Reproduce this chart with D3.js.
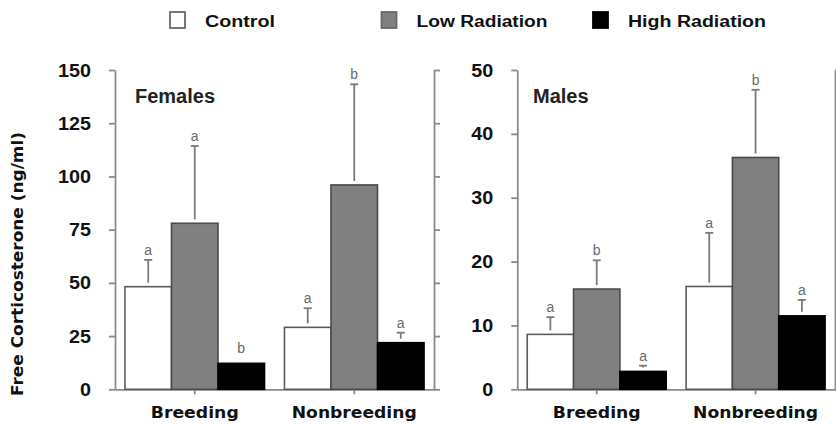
<!DOCTYPE html>
<meta charset="utf-8">
<html>
<head>
	<script src="https://d3js.org/d3.v7.min.js"></script>
	<style>
		body { margin: 0; background: #fff; }
	</style>
</head>
<body>
<div id="chart"></div>
<script>

// data
var categories = ["Breeding", "Nonbreeding"];
var groups = ["Control", "Low Radiation", "High Radiation"];

var femalesMean = [[48.2, 78.0, 12.2], [29.1, 96.0, 21.9]];
var femalesSe = [[12.6, 36.3, 0], [9.0, 47.3, 4.7]];
var femalesLetters = [["a", "a", "b"], ["a", "b", "a"]];
var femalesTicks = [0, 25, 50, 75, 100, 125, 150];

var malesMean = [[8.6, 15.7, 2.8], [16.1, 36.3, 11.5]];
var malesSe = [[2.7, 4.5, 0.9], [8.4, 10.6, 2.5]];
var malesLetters = [["a", "b", "a"], ["a", "b", "a"]];
var malesTicks = [0, 10, 20, 30, 40, 50];

var width = 836, height = 425;
var plotTop = 70, plotBottom = 389.3;
var fills = ["#ffffff", "#808080", "#000000"];
var strokes = ["#5a5a5a", "#4a4a4a", "#000000"];
var axisColor = "#8a8a8a";

var svg = d3.select("#chart")
  .append("svg")
    .attr("width", width)
    .attr("height", height);

var panels = [
  {name: "Females", mean: femalesMean, se: femalesSe, letters: femalesLetters, ticks: femalesTicks, x0: 115, x1: 434, labelX: 135},
  {name: "Males", mean: malesMean, se: malesSe, letters: malesLetters, ticks: malesTicks, x0: 517.3, x1: 835, labelX: 533}
];

panels.forEach(function(p) {
  var y = d3.scaleLinear()
    .domain([0, d3.max(p.ticks)])
    .range([plotBottom, plotTop]);

  var x = d3.scaleBand()
    .domain(categories)
    .range([p.x0, p.x1])
    .paddingInner(0.125)
    .paddingOuter(0.0625);

  var xs = d3.scaleBand()
    .domain(groups)
    .range([0, x.bandwidth()]);

  // left axis with labels
  var ya = svg.append("g")
    .attr("transform", "translate(" + p.x0 + ",0)")
    .call(d3.axisLeft(y).tickValues(p.ticks).tickSize(6).tickSizeOuter(0).tickPadding(18));
  ya.selectAll("text")
    .style("font-family", "'Liberation Sans', Arial, sans-serif")
    .style("font-weight", "bold")
    .style("font-size", "19px")
    .attr("fill", "#111")
    .attr("textLength", function(d) { return String(d).length * 11; })
    .attr("lengthAdjust", "spacingAndGlyphs");

  // right axis, ticks only
  var yr = svg.append("g")
    .attr("transform", "translate(" + p.x1 + ",0)")
    .call(d3.axisRight(y).tickValues(p.ticks).tickSize(6).tickSizeOuter(0).tickFormat(""));

  // bottom axis
  var xa = svg.append("g")
    .attr("transform", "translate(0," + plotBottom + ")")
    .call(d3.axisBottom(x).tickSize(5).tickSizeOuter(0));
  xa.selectAll("text")
    .attr("y", 29)
    .attr("dy", 0)
    .style("font-family", "'DejaVu Sans', Verdana, sans-serif")
    .style("font-weight", "bold")
    .style("font-size", "15px")
    .attr("fill", "#111")
    .attr("textLength", function(d) { return d == "Breeding" ? 88 : 125; })
    .attr("lengthAdjust", "spacingAndGlyphs");

  [ya, yr, xa].forEach(function(a) {
    a.selectAll("path, line").attr("stroke", axisColor).attr("stroke-width", 1.8);
  });

  // bars
  var rows = [];
  categories.forEach(function(c, i) {
    groups.forEach(function(g, j) {
      rows.push({cat: c, grp: g, j: j, mean: p.mean[i][j], se: p.se[i][j], letter: p.letters[i][j]});
    });
  });

  svg.selectAll(null)
    .data(rows)
    .enter()
    .append("rect")
      .attr("x", function(d) { return x(d.cat) + xs(d.grp); })
      .attr("y", function(d) { return y(d.mean); })
      .attr("width", xs.bandwidth())
      .attr("height", function(d) { return plotBottom - y(d.mean); })
      .attr("fill", function(d) { return fills[d.j]; })
      .attr("stroke", function(d) { return strokes[d.j]; })
      .attr("stroke-width", 1.6);

  // error bars (upper only) with cap
  var eb = svg.selectAll(null)
    .data(rows.filter(function(d) { return d.se > 0; }))
    .enter()
    .append("g")
      .attr("stroke", "#7a7a7a")
      .attr("stroke-width", 1.8);
  eb.append("line")
    .attr("x1", function(d) { return x(d.cat) + xs(d.grp) + xs.bandwidth() / 2; })
    .attr("x2", function(d) { return x(d.cat) + xs(d.grp) + xs.bandwidth() / 2; })
    .attr("y1", function(d) { return Math.max(y(d.mean) - 4, y(d.mean + d.se)); })
    .attr("y2", function(d) { return y(d.mean + d.se); });
  eb.append("line")
    .attr("x1", function(d) { return x(d.cat) + xs(d.grp) + xs.bandwidth() / 2 - 4; })
    .attr("x2", function(d) { return x(d.cat) + xs(d.grp) + xs.bandwidth() / 2 + 4; })
    .attr("y1", function(d) { return y(d.mean + d.se); })
    .attr("y2", function(d) { return y(d.mean + d.se); });

  // significance letters
  svg.selectAll(null)
    .data(rows)
    .enter()
    .append("text")
      .attr("x", function(d) { return x(d.cat) + xs(d.grp) + xs.bandwidth() / 2; })
      .attr("y", function(d) { return d.se > 0 ? y(d.mean + d.se) - 5 : y(d.mean) - 10; })
      .attr("text-anchor", "middle")
      .style("font-family", "'Liberation Sans', Arial, sans-serif")
      .style("font-size", "14px")
      .attr("fill", "#6a6a6a")
      .text(function(d) { return d.letter; });

  // panel label
  svg.append("text")
    .attr("x", p.labelX)
    .attr("y", 103)
    .style("font-family", "'Liberation Sans', Arial, sans-serif")
    .style("font-weight", "bold")
    .style("font-size", "20px")
    .attr("fill", "#222")
    .text(p.name);
});

// y axis title
svg.append("text")
  .attr("transform", "translate(23,264) rotate(-90)")
  .attr("text-anchor", "middle")
  .style("font-family", "'DejaVu Sans', Verdana, sans-serif")
  .style("font-weight", "bold")
  .style("font-size", "15px")
  .attr("fill", "#111")
  .attr("textLength", 264)
  .attr("lengthAdjust", "spacingAndGlyphs")
  .text("Free Corticosterone (ng/ml)");

// legend
var legendW = [70, 131, 138];
var leg = svg.selectAll("g.legend")
  .data(groups)
  .enter()
  .append("g")
    .attr("class", "legend")
    .attr("transform", function(d, i) { return "translate(" + (170 + i * 211.5) + ",12)"; });
leg.append("rect")
  .attr("width", 15)
  .attr("height", 16)
  .attr("fill", function(d, i) { return fills[i]; })
  .attr("stroke", function(d, i) { return i == 2 ? "#000" : "#6a6a6a"; })
  .attr("stroke-width", 1.8);
leg.append("text")
  .attr("x", 35)
  .attr("y", 15)
  .style("font-family", "'Liberation Sans', Arial, sans-serif")
  .style("font-weight", "bold")
  .style("font-size", "16px")
  .attr("fill", "#111")
  .attr("textLength", function(d, i) { return legendW[i]; })
  .attr("lengthAdjust", "spacingAndGlyphs")
  .text(function(d) { return d; });

</script>
</body>
</html>
